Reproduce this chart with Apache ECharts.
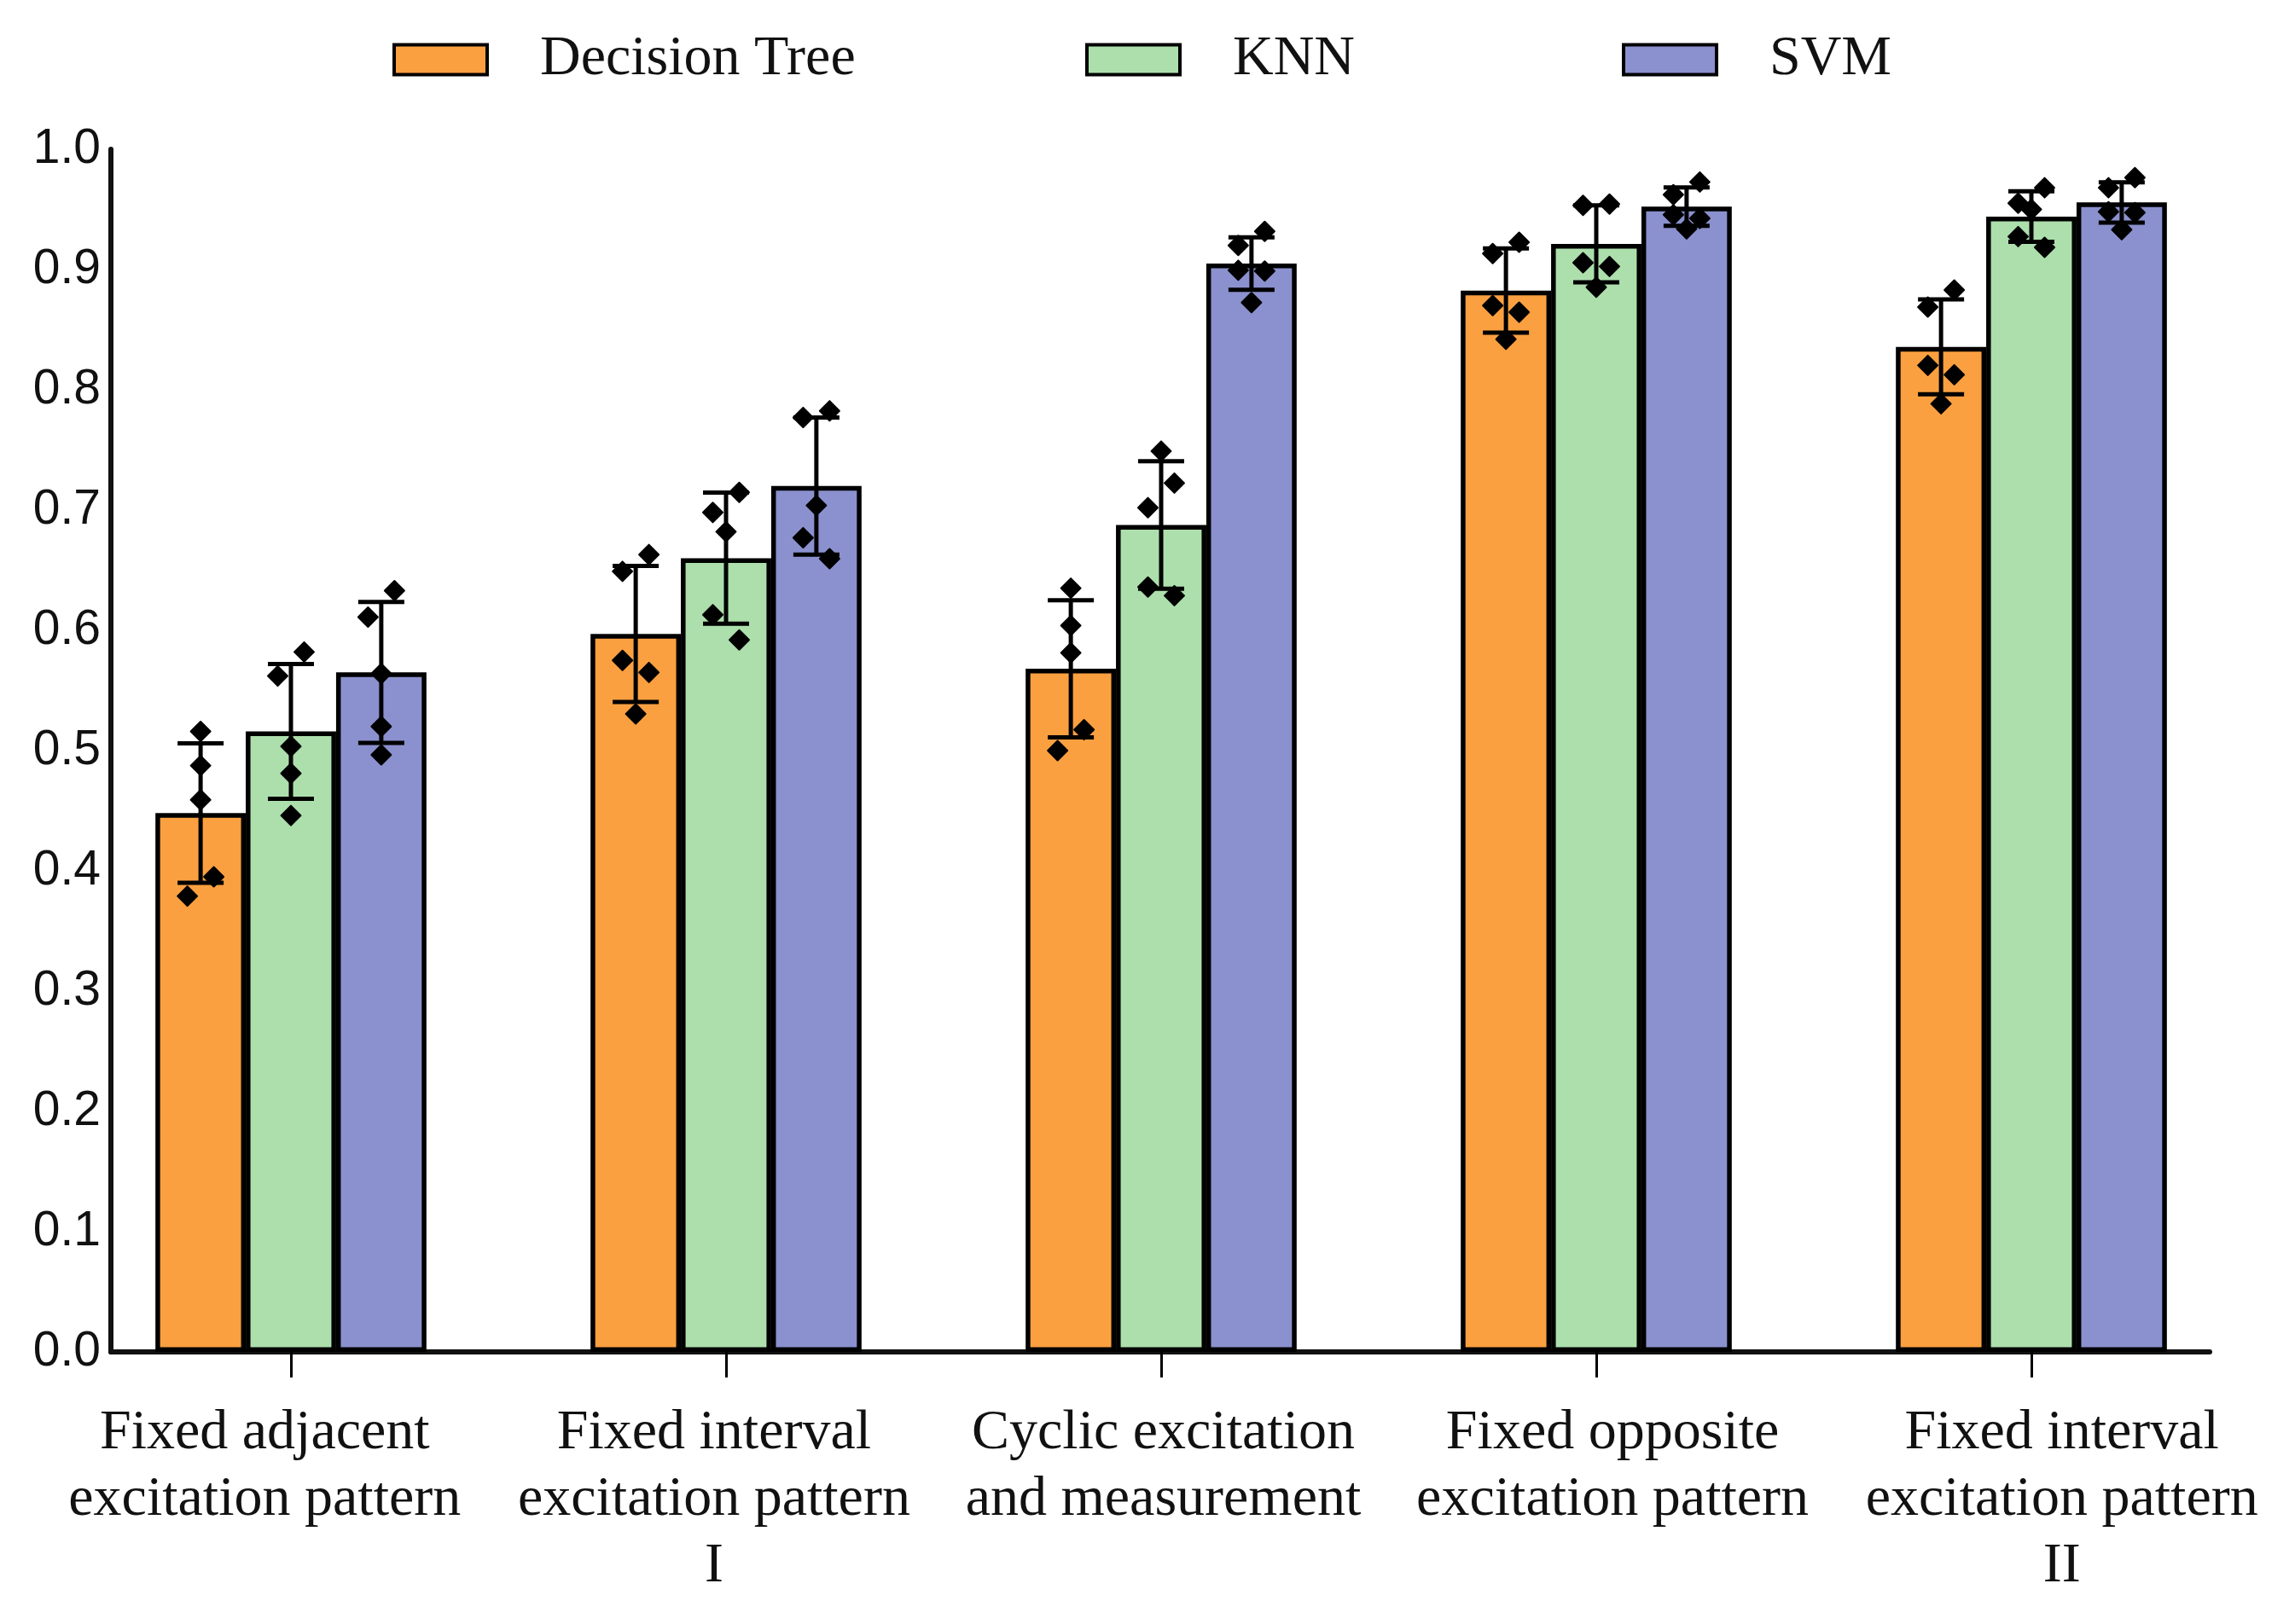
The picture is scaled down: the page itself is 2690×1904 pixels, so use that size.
<!DOCTYPE html>
<html>
<head>
<meta charset="utf-8">
<script src="https://cdn.jsdelivr.net/npm/echarts@6/dist/echarts.min.js"></script>
<style>
html,body{margin:0;padding:0;background:#ffffff;}
#c{width:2690px;height:1904px;}
</style>
</head>
<body>
<div id="c"></div>
<script>
// ---------- data ----------
const categories = [
  'Fixed adjacent\nexcitation pattern',
  'Fixed interval\nexcitation pattern\nI',
  'Cyclic excitation\nand measurement',
  'Fixed opposite\nexcitation pattern',
  'Fixed interval\nexcitation pattern\nII'
];
const seriesNames = ['Decision Tree', 'KNN', 'SVM'];

const dtMean  = [0.448, 0.597, 0.568, 0.8825, 0.8357];
const dtSD    = [0.058, 0.0565, 0.057, 0.035, 0.0395];
const knnMean = [0.516, 0.660, 0.6876, 0.9213, 0.944];
const knnSD   = [0.056, 0.0545, 0.053, 0.032, 0.021];
const svmMean = [0.565, 0.720, 0.905, 0.9523, 0.9558];
const svmSD   = [0.0586, 0.057, 0.0218, 0.016, 0.0168];

const dtPoints = [
  [0.516, 0.4875, 0.459, 0.395, 0.379],
  [0.663, 0.649, 0.575, 0.565, 0.5305],
  [0.635, 0.604, 0.5813, 0.5174, 0.500],
  [0.9227, 0.9133, 0.870, 0.8645, 0.842],
  [0.883, 0.8688, 0.8203, 0.8125, 0.7884]
];
const knnPoints = [
  [0.582, 0.562, 0.5035, 0.481, 0.446],
  [0.7147, 0.698, 0.682, 0.613, 0.592],
  [0.749, 0.7224, 0.702, 0.636, 0.6288],
  [0.9544, 0.9534, 0.9057, 0.9026, 0.8853],
  [0.968, 0.9551, 0.950, 0.9274, 0.9184]
];
const svmPoints = [
  [0.633, 0.611, 0.564, 0.520, 0.4965],
  [0.7825, 0.777, 0.7038, 0.677, 0.6596],
  [0.9317, 0.920, 0.8994, 0.8988, 0.8725],
  [0.9728, 0.9622, 0.9456, 0.9426, 0.9338],
  [0.9764, 0.968, 0.948, 0.9473, 0.9331]
];

const yMin = 0, yMax = 1.0, yStep = 0.1;

// ---------- style ----------
const colors = ['#FBA040', '#ADDFAD', '#8B91CE'];
const BAR_FRAC = 0.2076;
const SERIF = '"Liberation Serif", "Times New Roman", serif';
const SANS = '"Liberation Sans", Arial, sans-serif';

const means = [dtMean, knnMean, svmMean];
const sds = [dtSD, knnSD, svmSD];
const points = [dtPoints, knnPoints, svmPoints];

// swarm-like side placement of close points (layout only)
function jitterSlots(vals) {
  const T = 0.0222;
  const order = vals.map((v, i) => i).sort((a, b) => vals[b] - vals[a]);
  const slots = new Array(vals.length).fill(0);
  let bins = [], cur = [];
  order.forEach(k => {
    if (cur.length === 1 && vals[cur[0]] - vals[k] <= T) { cur.push(k); }
    else { if (cur.length) bins.push(cur); cur = [k]; }
  });
  if (cur.length) bins.push(cur);
  let pairCount = 0;
  bins.forEach(b => {
    if (b.length === 2) {
      const flip = pairCount % 2 === 0 ? 1 : -1;
      slots[b[0]] = flip; slots[b[1]] = -flip;
      pairCount++;
    }
  });
  return slots;
}

function makeRender(si) {
  return function (params, api) {
    const i = api.value(0), m = api.value(1), sd = api.value(2);
    const band = api.size([1, 0])[0];
    const bw = band * BAR_FRAC;
    const x = api.coord([i, m])[0] + (si - 1) * bw;
    const yT = api.coord([i, m + sd])[1];
    const yB = api.coord([i, m - sd])[1];
    const pts = [];
    for (let k = 3; k < 8; k++) pts.push(api.value(k));
    const slots = jitterSlots(pts);
    const ls = { stroke: '#000', lineWidth: 5 };
    const capW = 27;
    const children = [
      { type: 'line', shape: { x1: x, y1: yT, x2: x, y2: yB }, style: ls },
      { type: 'line', shape: { x1: x - capW, y1: yT, x2: x + capW, y2: yT }, style: ls },
      { type: 'line', shape: { x1: x - capW, y1: yB, x2: x + capW, y2: yB }, style: ls }
    ];
    const r = 11.5;
    pts.forEach((v, k) => {
      const y = api.coord([i, v])[1];
      const px = x + slots[k] * 15.5;
      children.push({
        type: 'polygon',
        shape: { points: [[px, y - r], [px + r, y], [px, y + r], [px - r, y]] },
        style: { fill: '#000', stroke: '#000', lineWidth: 2, lineJoin: 'round' }
      });
    });
    return { type: 'group', children };
  };
}

const series = [];
seriesNames.forEach((name, si) => {
  series.push({
    name: name,
    type: 'bar',
    xAxisIndex: 0, yAxisIndex: 0,
    data: means[si],
    barWidth: (BAR_FRAC * 100) + '%',
    barGap: '0%',
    itemStyle: { color: colors[si], borderColor: '#000', borderWidth: 5.5 },
    emphasis: { disabled: true },
    z: 2
  });
});
seriesNames.forEach((name, si) => {
  series.push({
    name: name + ' err',
    type: 'custom',
    xAxisIndex: 0, yAxisIndex: 0,
    renderItem: makeRender(si),
    data: categories.map((c, i) => [i, means[si][i], sds[si][i]].concat(points[si][i])),
    encode: { x: 0, y: 1 },
    z: 5,
    silent: true
  });
});

const legendLefts = [455, 1267, 1896];
const legends = seriesNames.map((name, si) => ({
  data: [name],
  left: legendLefts[si],
  top: 32,
  icon: 'rect',
  itemWidth: 109,
  itemHeight: 35,
  itemStyle: { borderColor: '#000', borderWidth: 4 },
  textStyle: { fontFamily: SERIF, fontSize: 66, color: '#111', padding: [0, 0, 0, 57] },
  selectedMode: false
}));

const option = {
  backgroundColor: '#ffffff',
  animation: false,
  legend: legends,
  grid: [
    { left: 86, width: 2550, top: 175, height: 1410 },
    { left: 130, width: 2460, top: 175, height: 1410 },
    { left: 47, width: 2633, top: 175, height: 1410 }
  ],
  xAxis: [
    {
      gridIndex: 0, type: 'category', data: categories,
      axisLine: { show: false },
      axisTick: { show: true, alignWithLabel: true, length: 30, lineStyle: { color: '#000', width: 3 } },
      axisLabel: { show: false },
      splitLine: { show: false }
    },
    {
      gridIndex: 1, type: 'value', min: 0, max: 1,
      axisLine: { show: true, onZero: false, lineStyle: { color: '#111', width: 6 } },
      axisTick: { show: false }, axisLabel: { show: false }, splitLine: { show: false }
    },
    {
      gridIndex: 2, type: 'category', data: categories,
      axisLine: { show: false }, axisTick: { show: false }, splitLine: { show: false },
      axisLabel: {
        show: true, interval: 0, margin: 57,
        fontFamily: SERIF, fontSize: 66, lineHeight: 78, color: '#111', align: 'center'
      }
    }
  ],
  yAxis: [
    { gridIndex: 0, type: 'value', min: yMin, max: yMax, show: false },
    {
      gridIndex: 1, type: 'value', min: yMin, max: yMax, interval: yStep,
      axisLine: { show: true, lineStyle: { color: '#111', width: 6 } },
      axisTick: { show: false },
      splitLine: { show: false },
      axisLabel: {
        margin: 12, fontFamily: SANS, fontSize: 57, color: '#111',
        formatter: v => v.toFixed(1)
      }
    },
    { gridIndex: 2, type: 'value', min: yMin, max: yMax, show: false }
  ],
  series: series
};

const chart = echarts.init(document.getElementById('c'), null, { renderer: 'canvas' });
chart.setOption(option);
</script>
</body>
</html>
